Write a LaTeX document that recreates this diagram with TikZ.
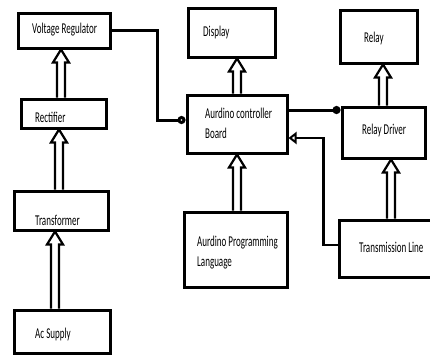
\documentclass[tikz,border=0pt]{standalone}
\usepackage{fontspec}
\setmainfont{Carlito}
\usetikzlibrary{arrows.meta,calc}
\newcommand{\lbl}[1]{\scalebox{0.72}[1.2]{#1}}
\begin{document}
\begin{tikzpicture}[x=1pt,y=-1pt,
  box/.style={draw=black,line width=3pt,inner sep=0pt,rectangle},
  txt/.style={anchor=west,inner sep=0pt,align=left,font=\fontsize{12.5}{20}\selectfont},
  conn/.style={draw=black,line width=3pt},
  blockarrow/.style={draw=black,fill=white,line width=2.2pt,line join=miter,
    to path={let \p1=(\tikztostart), \p2=(\tikztotarget) in
      (\x1-4pt,\y1) -- (\x1-4pt,\y2-13pt) -- (\x1-8pt,\y2-13pt) -- (\x1,\y2)
      -- (\x1+8pt,\y2-13pt) -- (\x1+4pt,\y2-13pt) -- (\x1+4pt,\y1)}}]
\useasboundingbox (0,0) rectangle (430,356);
\clip (0,0) rectangle (430,356);
% boxes
\node[box,minimum width=92pt,minimum height=35pt] (vr) at (64,30.5) {};
\node[box,minimum width=85pt,minimum height=29pt] (rect) at (63.5,113.5) {};
\node[box,minimum width=94pt,minimum height=39pt] (trans) at (61,210.5) {};
\node[box,minimum width=96pt,minimum height=43pt] (ac) at (62,331.5) {};
\node[box,minimum width=87pt,minimum height=49pt] (disp) at (231.5,32.5) {};
\node[box,minimum width=100pt,minimum height=58pt] (ard) at (237,124) {};
\node[box,minimum width=103pt,minimum height=75pt] (apl) at (235.5,249.5) {};
\node[box,minimum width=77pt,minimum height=53pt] (relay) at (378.5,36.5) {};
\node[box,minimum width=83pt,minimum height=51pt] (rd) at (383.5,132.5) {};
\node[box,minimum width=111pt,minimum height=57pt] (tl) at (394.5,248.5) {};
% texts
\node[txt] (tvr) at (32,30) {\lbl{Voltage Regulator}};
\node[txt] (trect) at (35,117) {\lbl{Rectifier}};
\node[txt] (ttrans) at (35,220) {\lbl{Transformer}};
\node[txt] (tac) at (35,334) {\lbl{Ac Supply}};
\node[txt] (tdisp) at (203,33) {\lbl{Display}};
\node[txt] (tard) at (205,123) {\lbl{Aurdino controller}\\\lbl{Board}};
\node[txt] (tapl) at (197,252.5) {\lbl{Aurdino Programming}\\\lbl{Language}};
\node[txt] (trelay) at (364,38) {\lbl{Relay}};
\node[txt] (trd) at (362,130) {\lbl{Relay Driver}};
\node[txt] (ttl) at (359,247) {\lbl{Transmission Line}};
% block arrows
\draw[blockarrow] ([xshift=-2.5pt]rect.north) to (vr.south);
\draw[blockarrow] ([xshift=-2pt]trans.north) to (rect.south);
\draw[blockarrow] ([xshift=-7pt]ac.north) to (trans.south);
\draw[blockarrow] (ard.north) to (disp.south);
\draw[blockarrow] ([xshift=1.5pt]apl.north) to (ard.south);
\draw[blockarrow] ([xshift=-0.5pt]rd.north) to (relay.south);
\draw[blockarrow] ([xshift=-3.5pt]tl.north) to (rd.south);
% line connectors
\draw[conn,-{Circle[open,length=8pt]}] (vr.east) -- ++(46,0) |- ([yshift=4pt]ard.west);
\draw[conn,-{Circle[length=8pt]}] ([yshift=14pt]ard.east) -- ([yshift=14pt]ard.east -| rd.west);
\draw[conn,line width=2.5pt,-{Triangle[open,length=8pt,width=12pt]}] ([yshift=3.5pt]tl.west) -- ++(-14,0) |- ([yshift=-14pt]ard.east);
\end{tikzpicture}
\end{document}
